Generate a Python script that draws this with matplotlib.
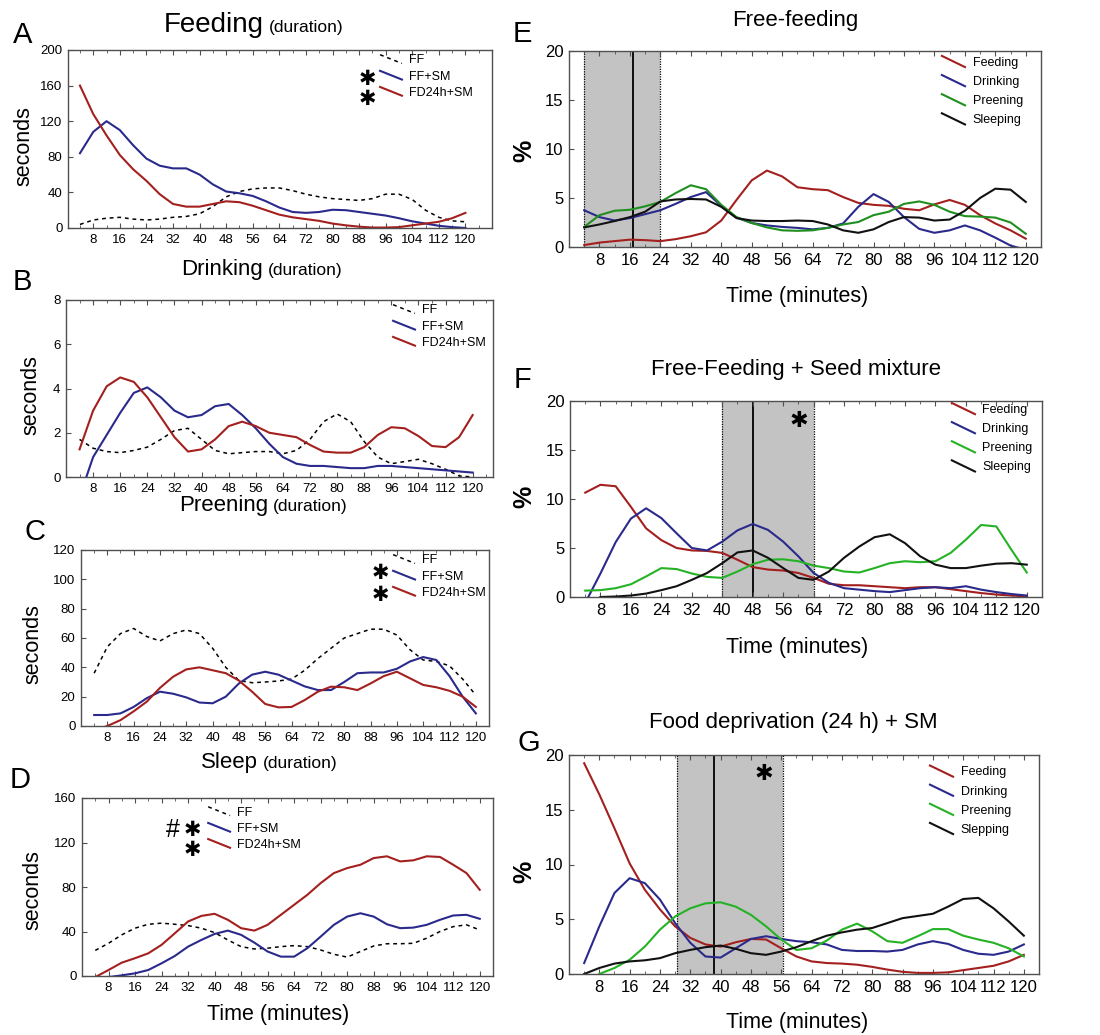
import numpy as np
import matplotlib
matplotlib.use('Agg')
import matplotlib.pyplot as plt
from matplotlib.lines import Line2D
from matplotlib.legend_handler import HandlerBase

plt.rcParams['font.family'] = ['Liberation Sans', 'DejaVu Sans']

W, H = 1100, 1035
nan = np.nan

# 4-min bins of the 2 h session
minutes = np.arange(4, 121, 4)

# ---- A-D: duration (seconds) per group
feed_ff   = [4, 9, 11, 12, 10, 9, 10, 12, 13, 16, 24, 35, 41, 44, 45, 45, 42, 38, 35, 33, 32, 31, 33, 38, 38, 32, 20, 12, 8, 7]
feed_ffsm = [84, 108, 120, 110, 93, 78, 70, 67, 67, 60, 49, 41, 39, 36, 30, 23, 18, 17, 18, 20.5, 20, 18, 16, 14, 11, 7.5, 5, 2.5, 1, 0]
feed_fd   = [160, 128, 104, 82, 66, 53, 38, 27, 24, 24, 27, 30, 29, 25, 20, 15, 12, 10, 8, 5, 3, 1.5, 0.5, 0.5, 1, 3, 5, 7, 11, 17]

drink_ff   = [1.7, 1.3, 1.15, 1.1, 1.2, 1.35, 1.7, 2.1, 2.2, 1.7, 1.2, 1.05, 1.1, 1.15, 1.15, 1.05, 1.2, 1.7, 2.5, 2.85, 2.5, 1.6, 0.9, 0.6, 0.7, 0.8, 0.6, 0.35, 0.05, 0]
drink_ffsm = [-0.9, 0.9, 1.9, 2.9, 3.8, 4.05, 3.6, 3.0, 2.7, 2.8, 3.2, 3.3, 2.8, 2.2, 1.5, 0.9, 0.6, 0.5, 0.5, 0.45, 0.4, 0.4, 0.5, 0.5, 0.45, 0.4, 0.35, 0.3, 0.25, 0.2]
drink_fd   = [1.25, 3.0, 4.1, 4.5, 4.3, 3.6, 2.7, 1.8, 1.15, 1.25, 1.7, 2.3, 2.5, 2.3, 2.0, 1.9, 1.8, 1.45, 1.15, 1.1, 1.1, 1.35, 1.9, 2.25, 2.2, 1.85, 1.4, 1.35, 1.8, 2.8]

preen_ff   = [36, 54, 63, 66.5, 61, 58, 63, 65.5, 63, 53, 40, 31, 29.5, 30, 30.7, 32, 38, 46, 53, 60, 63, 66, 66, 62, 52, 45, 44, 41, 32, 21]
preen_ffsm = [7.5, 7.5, 8.6, 13, 19, 23.4, 22, 19.5, 16, 15.5, 20, 29, 35, 37, 35, 31, 27, 24.5, 24.5, 30, 36, 36.5, 36.5, 39, 44, 47, 45, 34, 20, 8.6]
preen_fd   = [-3, 0, 4, 10, 16.6, 26, 33.6, 38.6, 40, 38, 36, 31, 23.4, 15, 12.7, 13, 17.7, 23.4, 26.8, 26.4, 24.5, 29, 34, 37, 32.5, 28, 26.4, 24, 20, 13]

sleep_ff   = [23, 29.4, 37, 43, 46.5, 47.5, 46.5, 45.3, 43, 39, 32.4, 26.4, 24.3, 25, 26.4, 27.3, 26.4, 23.4, 19.5, 17, 22, 27, 29, 29, 29.4, 34, 40, 44.4, 46, 41.4]
sleep_ffsm = [-3, -1, 0.6, 2.4, 5.4, 11.4, 18, 26.4, 32.4, 37.8, 40.8, 37, 30, 22, 17.4, 17.4, 25, 35.4, 46, 53.4, 56.4, 53.4, 46.5, 43, 43.5, 46, 50.5, 54.4, 55, 51.4]
sleep_fd   = [-1, 5.4, 12, 16, 20.4, 28, 38.4, 49, 54, 55.9, 50.5, 43, 40.8, 46, 55, 64, 73, 83.5, 92.5, 97, 100, 106, 107.6, 103, 104, 107.6, 107, 100, 92.5, 77.5]

group_labels = ['FF', 'FF+SM', 'FD24h+SM']

# ---- E-G: % of time per behaviour
ff_feed  = [0.2, 0.45, 0.6, 0.75, 0.7, 0.6, 0.8, 1.1, 1.5, 2.7, 4.8, 6.8, 7.8, 7.2, 6.1, 5.9, 5.8, 5.1, 4.5, 4.3, 4.2, 3.9, 3.75, 4.35, 4.8, 4.3, 3.25, 2.4, 1.7, 0.85]
ff_drink = [3.75, 3.05, 2.7, 2.95, 3.35, 3.75, 4.4, 5.1, 5.6, 4.2, 3.0, 2.45, 2.2, 2.05, 1.95, 1.8, 1.95, 2.4, 4.1, 5.4, 4.6, 3.05, 1.85, 1.45, 1.7, 2.2, 1.7, 0.95, 0.15, -0.3]
ff_preen = [2.05, 3.25, 3.7, 3.8, 4.15, 4.6, 5.5, 6.3, 5.9, 4.3, 3.05, 2.45, 2.0, 1.7, 1.65, 1.7, 1.95, 2.3, 2.55, 3.25, 3.6, 4.4, 4.65, 4.3, 3.6, 3.15, 3.1, 3.0, 2.5, 1.35]
ff_sleep = [2.0, 2.3, 2.65, 3.05, 3.6, 4.65, 4.85, 4.9, 4.85, 4.1, 2.95, 2.7, 2.65, 2.65, 2.7, 2.65, 2.3, 1.7, 1.45, 1.8, 2.55, 3.05, 3.0, 2.7, 2.8, 3.7, 5.0, 5.95, 5.85, 4.6]

fs_feed  = [10.65, 11.45, 11.3, 9.2, 7.0, 5.8, 5.0, 4.75, 4.7, 4.5, 3.8, 3.05, 2.8, 2.7, 2.45, 1.95, 1.35, 1.2, 1.2, 1.1, 1.0, 0.9, 1.0, 1.0, 0.8, 0.6, 0.4, 0.25, 0.15, 0.05]
fs_drink = [-0.6, 2.4, 5.6, 8.0, 9.05, 8.05, 6.5, 5.0, 4.75, 5.65, 6.8, 7.45, 6.85, 5.65, 4.15, 2.45, 1.45, 0.9, 0.75, 0.6, 0.5, 0.7, 0.9, 1.0, 0.9, 1.1, 0.75, 0.5, 0.3, 0.15]
fs_preen = [0.65, 0.7, 0.9, 1.3, 2.1, 2.95, 2.85, 2.4, 2.05, 1.95, 2.6, 3.35, 3.8, 3.85, 3.65, 3.2, 2.95, 2.6, 2.5, 2.95, 3.45, 3.65, 3.55, 3.65, 4.5, 5.85, 7.35, 7.2, 4.8, 2.5]
fs_sleep = [nan, 0, 0.05, 0.15, 0.35, 0.7, 1.1, 1.75, 2.45, 3.45, 4.55, 4.75, 4.0, 2.95, 1.95, 1.75, 2.6, 4.0, 5.15, 6.1, 6.4, 5.5, 4.15, 3.3, 2.95, 2.95, 3.2, 3.4, 3.45, 3.3]

fd_feed  = [19.25, 16.4, 13.3, 10.1, 7.7, 5.9, 4.35, 3.3, 2.7, 2.5, 2.9, 3.2, 3.15, 2.35, 1.6, 1.15, 1.0, 0.95, 0.85, 0.65, 0.4, 0.2, 0.1, 0.1, 0.15, 0.35, 0.55, 0.75, 1.15, 1.75]
fd_drink = [1.0, 4.35, 7.4, 8.75, 8.3, 6.8, 4.65, 2.85, 1.6, 1.5, 2.35, 3.2, 3.45, 3.2, 3.0, 2.9, 2.7, 2.2, 2.1, 2.1, 2.05, 2.2, 2.7, 3.0, 2.75, 2.2, 1.85, 1.75, 2.05, 2.7]
fd_preen = [-1, 0, 0.55, 1.3, 2.5, 4.05, 5.25, 6.0, 6.45, 6.55, 6.15, 5.4, 4.35, 3.15, 2.2, 2.35, 3.05, 4.05, 4.6, 3.9, 3.0, 2.85, 3.45, 4.1, 4.1, 3.5, 3.15, 2.85, 2.35, 1.6]
fd_sleep = [0, 0.55, 0.95, 1.15, 1.25, 1.45, 1.9, 2.2, 2.45, 2.6, 2.3, 1.9, 1.75, 2.05, 2.45, 3.0, 3.5, 3.8, 4.05, 4.2, 4.65, 5.1, 5.3, 5.5, 6.15, 6.85, 6.95, 6.0, 4.8, 3.5]

behav_labels = ['Feeding', 'Drinking', 'Preening', 'Sleeping']
behav_labels_g = ['Feeding', 'Drinking', 'Preening', 'Slepping']

# grey band = latency window, solid line = mean latency (minutes)
span_e, mean_e = (4, 24), 16.7
span_f, mean_f = (40, 64), 48
span_g, mean_g = (28.5, 56.5), 38.2

c_red = '#a3201f'
c_blue = '#2a2a8c'
c_green_dark = '#1f8f1f'
c_green = '#25b225'
c_frame = '#505050'

fig = plt.figure(figsize=(11, 10.35), dpi=100, facecolor='white')


def px_axes(x0, y0, x1, y1):
    return fig.add_axes([x0 / W, 1 - y1 / H, (x1 - x0) / W, (y1 - y0) / H])


def px_text(x, y, s, **kw):
    return fig.text(x / W, 1 - y / H, s, **kw)


class SlantHandler(HandlerBase):
    # Statistica style legend keys: short slanted strokes
    def create_artists(self, legend, orig_handle, xdescent, ydescent,
                       width, height, fontsize, trans):
        line = Line2D([-xdescent, width - xdescent], [height - ydescent, -ydescent])
        self.update_prop(line, orig_handle, legend)
        line.set_transform(trans)
        return [line]


def frame(ax, xlim, ylim, yticks, fs):
    ax.set_xlim(xlim)
    ax.set_ylim(ylim)
    ax.set_xticks(range(8, 121, 8))
    ax.set_xticks(range(4, 125, 4), minor=True)
    ax.set_yticks(yticks)
    ax.tick_params(which='both', direction='in', top=True, color=c_frame,
                   labelsize=fs, pad=4)
    ax.tick_params(which='major', length=3.5)
    ax.tick_params(which='minor', length=2.5)
    for s in ax.spines.values():
        s.set_color(c_frame)
        s.set_linewidth(1)


def left_panel(box, series, xlim, ylim, yticks, leg_xy):
    ax = px_axes(*box)
    styles = [dict(color='k', lw=1.1, ls=(0, (2.5, 2.5))),
              dict(color=c_blue, lw=1.5),
              dict(color=c_red, lw=1.5)]
    lines = []
    for vals, st in zip(series, styles):
        ln, = ax.plot(minutes, vals, **st)
        lines.append(ln)
    frame(ax, xlim, ylim, yticks, 9.5)
    ax.legend(lines, group_labels, loc='upper left', bbox_to_anchor=leg_xy,
              frameon=False, fontsize=9, handlelength=1.75, handleheight=0.7,
              handletextpad=0.55, labelspacing=0.33, borderpad=0, borderaxespad=0,
              handler_map={Line2D: SlantHandler()})
    return ax


def right_panel(box, series, green, labels, span, mean_t, leg_xy):
    ax = px_axes(*box)
    ax.axvspan(span[0], span[1], color='#c3c3c3', lw=0, zorder=0)
    for x in span:
        ax.axvline(x, color='k', ls=(0, (1, 1)), lw=0.9, zorder=1)
    ax.axvline(mean_t, color='k', lw=1.3, zorder=1)
    lines = []
    for vals, col in zip(series, [c_red, c_blue, green, '#111111']):
        ln, = ax.plot(minutes, vals, color=col, lw=1.5, zorder=2)
        lines.append(ln)
    frame(ax, (0, 124), (0, 20), [0, 5, 10, 15, 20], 12)
    ax.legend(lines, labels, loc='upper left', bbox_to_anchor=leg_xy,
              frameon=False, fontsize=9, handlelength=1.85, handleheight=1.0,
              handletextpad=0.6, labelspacing=0.5, borderpad=0, borderaxespad=0,
              handler_map={Line2D: SlantHandler()})
    return ax


def star(ax, x, y, transform=None, size=15):
    ax.text(x, y, '\u2731', transform=transform or ax.transAxes, ha='center',
            va='center', fontsize=size, family='DejaVu Sans', color='k')


# ---------------- left column
axA = left_panel((68, 50, 492, 228), (feed_ff, feed_ffsm, feed_fd),
                 (0.4, 128), (0, 200), range(0, 201, 40), (0.736, 0.975))
star(axA, 0.705, 0.837)
star(axA, 0.705, 0.725)

axB = left_panel((66, 300, 493, 477), (drink_ff, drink_ffsm, drink_fd),
                 (0, 126), (0, 8), range(0, 9, 2), (0.766, 0.975))

axC = left_panel((81, 550, 489, 726), (preen_ff, preen_ffsm, preen_fd),
                 (0, 124), (0, 120), range(0, 121, 20), (0.765, 0.975))
star(axC, 0.733, 0.869)
star(axC, 0.733, 0.744)

axD = left_panel((82, 798, 493, 976), (sleep_ff, sleep_ffsm, sleep_fd),
                 (0, 124), (0, 160), range(0, 161, 40), (0.307, 0.952))
axD.text(0.221, 0.82, '#', transform=axD.transAxes, ha='center', va='center',
         fontsize=18, color='k')
star(axD, 0.268, 0.82)
star(axD, 0.268, 0.708)

# titles "Behaviour (duration)"
for split, base, word, fs in [(266, 32, 'Feeding', 20), (265, 275, 'Drinking', 16),
                              (270, 511, 'Preening', 16), (260, 768, 'Sleep', 16)]:
    px_text(split - 2, base, word, ha='right', va='baseline', fontsize=fs)
    px_text(split + 3, base, '(duration)', ha='left', va='baseline', fontsize=12.5)

for x, y in [(24, 146), (31, 395), (33, 644), (33, 890)]:
    px_text(x, y, 'seconds', rotation=90, ha='center', va='center', fontsize=15.5)

px_text(278, 1020, 'Time (minutes)', ha='center', va='baseline', fontsize=15.5)

# ---------------- right column
axE = right_panel((569, 51, 1041, 247), (ff_feed, ff_drink, ff_preen, ff_sleep),
                  c_green_dark, behav_labels, span_e, mean_e, (0.79, 0.975))
axF = right_panel((570, 401, 1042, 597), (fs_feed, fs_drink, fs_preen, fs_sleep),
                  c_green, behav_labels, span_f, mean_f, (0.809, 0.99))
star(axF, 60, 18, transform=axF.transData, size=16)
axG = right_panel((569, 755, 1039, 974), (fd_feed, fd_drink, fd_preen, fd_sleep),
                  c_green, behav_labels_g, span_g, mean_g, (0.768, 0.952))
star(axG, 51.5, 18.3, transform=axG.transData, size=16)

for xc, base, s in [(795, 26, 'Free-feeding'), (796, 375, 'Free-Feeding + Seed mixture'),
                    (793, 728, 'Food deprivation (24 h) + SM')]:
    px_text(xc, base, s, ha='center', va='baseline', fontsize=16)

for base in [302, 653, 1028]:
    px_text(797, base, 'Time (minutes)', ha='center', va='baseline', fontsize=15.5)

for y in [151, 497, 872]:
    px_text(524, y, '%', rotation=90, ha='center', va='center', fontsize=18,
            fontweight='bold')

# panel letters
for x, y, s in [(23, 35, 'A'), (22, 282, 'B'), (35, 532, 'C'), (20, 780, 'D'),
                (522, 34, 'E'), (522, 380, 'F'), (529, 743, 'G')]:
    px_text(x, y, s, ha='center', va='center', fontsize=21)

fig.savefig('out.png', dpi=100, facecolor='white')
